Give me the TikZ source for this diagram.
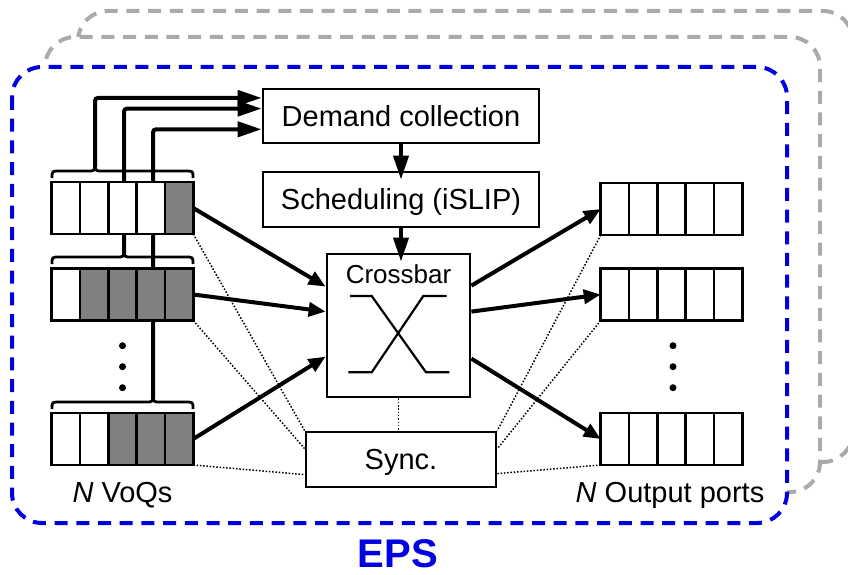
\documentclass[tikz,border=0pt]{standalone}
\usepackage{fontspec}
\setmainfont{Liberation Sans}
\usetikzlibrary{arrows.meta,calc}
\definecolor{epsblue}{RGB}{0,0,225}
\definecolor{shadowgray}{RGB}{170,170,170}
\definecolor{cellgray}{RGB}{128,128,128}

\tikzset{
  frame/.style={rounded corners=30pt, line width=4pt, dash pattern=on 13pt off 8.7pt},
  block/.style={draw, line width=2.8pt, fill=white, inner sep=0pt,
    font=\fontsize{29}{34}\selectfont, text height=20.8pt, text depth=0pt},
  queue/.style={draw, line width=2.8pt, fill=white, inner sep=0pt, outer sep=0pt,
    minimum width=141.5pt, minimum height=52pt},
  qline/.style={line width=2.8pt},
  feed/.style={line width=4pt, rounded corners=3pt, -{Triangle[length=24pt,width=15pt]}},
  flow/.style={line width=4pt, -{Triangle[length=17pt,width=14pt]}},
  link/.style={line width=1.5pt, dash pattern=on 1.5pt off 1.8pt},
  bracket/.style={line width=2.8pt},
  xline/.style={line width=2.2pt},
  label/.style={anchor=base, inner sep=1pt, font=\fontsize{29}{34}\selectfont},
  dot/.style={circle, fill, inner sep=0pt, minimum size=7pt}
}

% queue of five cells: name, centre, list of shaded cells (0 = none)
\newcommand\fifo[3]{%
  \node[queue] (#1) at (#2) {};
  \foreach \k in {#3} {\ifnum\k>0
    \fill[cellgray] ($(#1.north west)+({(\k-1)*28.3},0)$) rectangle ($(#1.south west)+({\k*28.3},0)$);
  \fi}
  \foreach \k in {1,...,4}
    \draw[qline] ($(#1.north west)+({\k*28.3},0)$) -- ($(#1.south west)+({\k*28.3},0)$);
  \draw[qline] (#1.north west) rectangle (#1.south east);
}

% curly bracket above an input queue: top of queue, x of the tip
\newcommand\qbrace[2]{%
  \draw[bracket] (52,#1-4) .. controls (52,#1-11) .. (60,#1-11) -- (#2-7,#1-11)
    .. controls (#2-1,#1-11) .. (#2,#1-16) .. controls (#2+1,#1-11) .. (#2+7,#1-11)
    -- (185,#1-11) .. controls (193,#1-11) .. (193,#1-4);
}

\begin{document}
\begin{tikzpicture}[x=1pt,y=-1pt]
\useasboundingbox (0,0) rectangle (848,575);

% stacked switch planes
\draw[frame, shadowgray, fill=white] (78,11) rectangle (853,462);
\draw[frame, shadowgray, fill=white] (45,37) rectangle (820,492);
\draw[frame, epsblue, fill=white] (12,67) rectangle (787,523);

% control blocks
\node[block, minimum width=276pt, minimum height=54pt] (demand) at (401,116) {Demand collection};
\node[block, minimum width=276pt, minimum height=55pt] (sched) at (401,199.5) {Scheduling (iSLIP)};
\node[block, minimum width=143pt, minimum height=143pt] (xbar) at (398.5,325.5) {};
\node[anchor=base, font=\fontsize{26}{30}\selectfont] (xbartext) at (398.5,283.3) {Crossbar};
\node[block, minimum width=190pt, minimum height=55pt] (sync) at (401,459.5) {Sync.};

% crossbar symbol
\draw[xline] ($(xbar)+(-48.5,-29.5)$) -- ($(xbar)+(-26.8,-29.5)$) -- ($(xbar)+(27.5,46.8)$) -- ($(xbar)+(50.8,46.8)$);
\draw[xline] ($(xbar)+(48.2,-29.5)$) -- ($(xbar)+(24.8,-29.5)$) -- ($(xbar)+(-26.8,46.8)$) -- ($(xbar)+(-50.2,46.8)$);

% demand reports from the VoQ groups
\qbrace{182}{95}
\qbrace{268}{124}
\qbrace{413}{153}
\coordinate (b1) at (95,167);
\coordinate (b2) at (124,253);
\coordinate (b3) at (153,398);
\coordinate (d1) at ($(demand.north west)+(0,10.3)$);
\coordinate (d2) at ($(demand.north west)+(0,21)$);
\coordinate (d3) at ($(demand.north west)+(0,41.7)$);
\draw[feed] (b1) |- (d1);
\draw[feed] (b2) |- (d2);
\draw[feed] (b3) |- (d3);

% input VoQs
\fifo{q1}{122.5,208}{5}
\fifo{q2}{122.5,294.5}{2,3,4,5}
\fifo{q3}{122.5,439}{3,4,5}
\node[dot] (ld1) at (122.5,345.7) {};
\node[dot] (ld2) at (122.5,366.7) {};
\node[dot] (ld3) at (122.5,387.7) {};

% output ports
\fifo{o1}{671.5,209}{0}
\fifo{o2}{671.5,294.5}{0}
\fifo{o3}{671.5,439}{0}
\node[dot] (rd1) at (673,345.7) {};
\node[dot] (rd2) at (673,366.7) {};
\node[dot] (rd3) at (673,387.7) {};

% control path
\draw[feed, shorten >=-9pt] (demand.south) -- (sched.north);
\draw[feed, shorten >=-9pt] (sched.south) -- (sched.south |- xbar.north);

% data path
\coordinate (xi1) at ($(xbar.north west)+(0,34)$);
\coordinate (xi2) at ($(xbar.north west)+(0,59)$);
\coordinate (xi3) at ($(xbar.north west)+(0,104)$);
\coordinate (xo1) at ($(xbar.north east)+(0,33)$);
\coordinate (xo2) at ($(xbar.north east)+(0,59)$);
\coordinate (xo3) at ($(xbar.north east)+(0,106)$);
\draw[flow] (q1.east) -- (xi1);
\draw[flow] (q2.east) -- (xi2);
\draw[flow] (q3.east) -- (xi3);
\draw[flow] (xo1) -- (o1.west);
\draw[flow] (xo2) -- (o2.west);
\draw[flow] (xo3) -- (o3.west);

% synchronisation links
\coordinate (sl2) at ($(sync.north west)+(0,18)$);
\coordinate (sl3) at ($(sync.north west)+(0,44)$);
\coordinate (sr2) at ($(sync.north east)+(0,18)$);
\coordinate (sr3) at ($(sync.north east)+(0,43)$);
\draw[link] (q1.south east) -- (sync.north west);
\draw[link] (q2.south east) -- (sl2);
\draw[link] (q3.south east) -- (sl3);
\draw[link] (o1.south west) -- (sync.north east);
\draw[link] (o2.south west) -- (sr2);
\draw[link] (o3.south west) -- (sr3);
\draw[link] (xbar.south) -- (xbar.south |- sync.north);

% captions
\node[label] (voq) at (122.5,502) {\textit{N} VoQs};
\node[label] (outp) at (670,502) {\textit{N} Output ports};
\node[anchor=base, inner sep=0pt, font=\bfseries\fontsize{40}{48}\selectfont, text=epsblue] (eps) at (398,567) {EPS};
\end{tikzpicture}
\end{document}
